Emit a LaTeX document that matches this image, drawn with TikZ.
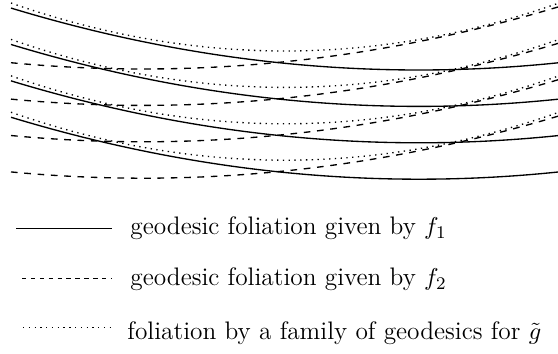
\documentclass[tikz,border=0pt]{standalone}
\tikzset{
  fol one/.style={draw=black, line width=0.6pt},
  fol two/.style={draw=black, line width=0.6pt, dashed},
  fol geo/.style={draw=black, line width=0.6pt, dotted},
  fol key/.style={anchor=base west, inner sep=0pt, font=\fontsize{11.4pt}{13pt}\selectfont},
}

\begin{document}
\begin{tikzpicture}[x=0.45pt,y=-0.45pt]
  \useasboundingbox (0,0) rectangle (558,354);
  % the three families of leaves
  \begin{scope}
    \clip (0,0) rectangle (558,190);
    \foreach \d in {0,36.4,72.8,109.2} {
      \draw[fol geo, domain=11:560, samples=90] plot (\x, {51+\d-6.39*((\x-285)/100)^2});
      \draw[fol one, domain=11:560, samples=90] plot (\x, {70+\d-3.72*((\x-419)/100)^2});
      \draw[fol two, domain=11:560, samples=90] plot (\x, {69+\d-3.6*((\x-143)/100)^2});
    }
  \end{scope}
  % legend
  \node[fol key] (key one) at (130,235) {geodesic foliation given by $f_1$};
  \node[fol key] (key two) at (130,286) {geodesic foliation given by $f_2$};
  \node[fol key] (key geo) at (127,340) {foliation by a family of geodesics for $\tilde g$};
  \coordinate (one a) at (16,228);  \coordinate (one b) at (112,228);
  \coordinate (two a) at (22,278);  \coordinate (two b) at (112,278);
  \coordinate (geo a) at (23,327);  \coordinate (geo b) at (111,327);
  \draw[fol one, line width=0.4pt] (one a) -- (one b);
  \draw[fol two, line width=0.4pt, dash pattern=on 2pt off 2pt] (two a) -- (two b);
  \draw[fol geo, line width=0.4pt] (geo a) -- (geo b);
\end{tikzpicture}
\end{document}
